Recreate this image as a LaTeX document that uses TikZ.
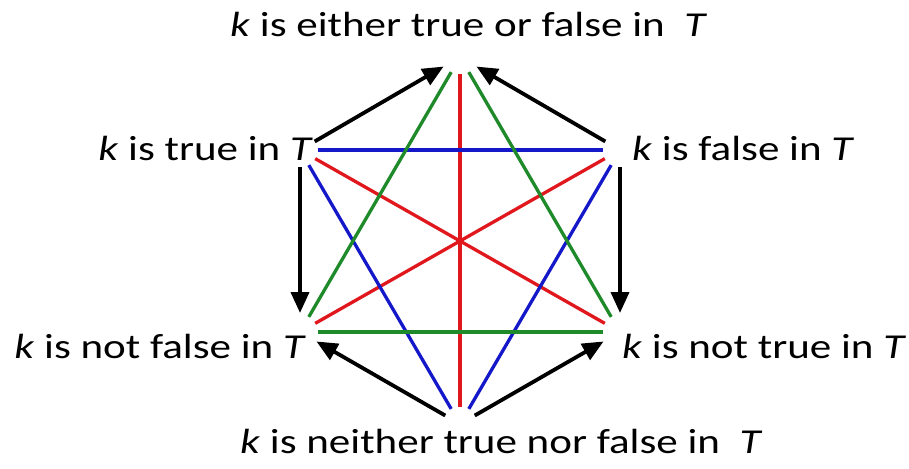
\documentclass[tikz,border=0pt]{standalone}
\usepackage{fontspec}
\setmainfont{Carlito}[FakeStretch=1.23]
\usetikzlibrary{arrows.meta}
\definecolor{lred}{HTML}{E0181E}
\definecolor{lblue}{HTML}{1418C8}
\definecolor{lgreen}{HTML}{1E8A2A}
\begin{document}
\begin{tikzpicture}[x=1pt,y=-1pt,
  lbl/.style={inner sep=0pt,font=\fontsize{35}{40}\selectfont},
  cline/.style={line width=3.3pt,shorten <=17.5pt,shorten >=17.5pt},
  impl/.style={line width=3.8pt,-{Triangle[length=21pt,width=18pt]},shorten <=17pt,shorten >=19pt}]
\useasboundingbox[fill=white] (0,0) rectangle (909,468);
\coordinate (top) at (460,57);
\coordinate (ul) at (300,150);
\coordinate (ur) at (620,150);
\coordinate (ll) at (300,332);
\coordinate (lr) at (620,332);
\coordinate (bot) at (460,424);
% contradictories (red)
\draw[cline,lred] (top) -- (bot);
\draw[cline,lred] (ul) -- (lr);
\draw[cline,lred] (ur) -- (ll);
% contraries (blue)
\draw[cline,lblue] (ul) -- (ur);
\draw[cline,lblue] (ul) -- (bot);
\draw[cline,lblue] (ur) -- (bot);
% subcontraries (green)
\draw[cline,lgreen] (ll) -- (lr);
\draw[cline,lgreen] (top) -- (ll);
\draw[cline,lgreen] (top) -- (lr);
% implications
\draw[impl] (ul) -- (top);
\draw[impl] (ur) -- (top);
\draw[impl] (ul) -- (ll);
\draw[impl] (ur) -- (lr);
\draw[impl] (bot) -- (ll);
\draw[impl] (bot) -- (lr);
% labels
\node[lbl,anchor=base west] (ltop) at (230,37) {\textit{k} is either true or false in\ \ \textit{T}};
\node[lbl,anchor=base east] (lul) at (313,160) {\textit{k} is true in \textit{T}};
\node[lbl,anchor=base west] (lur) at (632,160) {\textit{k} is false in \textit{T}};
\node[lbl,anchor=base east] (lll) at (306,358) {\textit{k} is not false in \textit{T}};
\node[lbl,anchor=base west] (llr) at (622,358) {\textit{k} is not true in \textit{T}};
\node[lbl,anchor=base west] (lbot) at (240,453) {\textit{k} is neither true nor false in\ \ \textit{T}};
\end{tikzpicture}
\end{document}
